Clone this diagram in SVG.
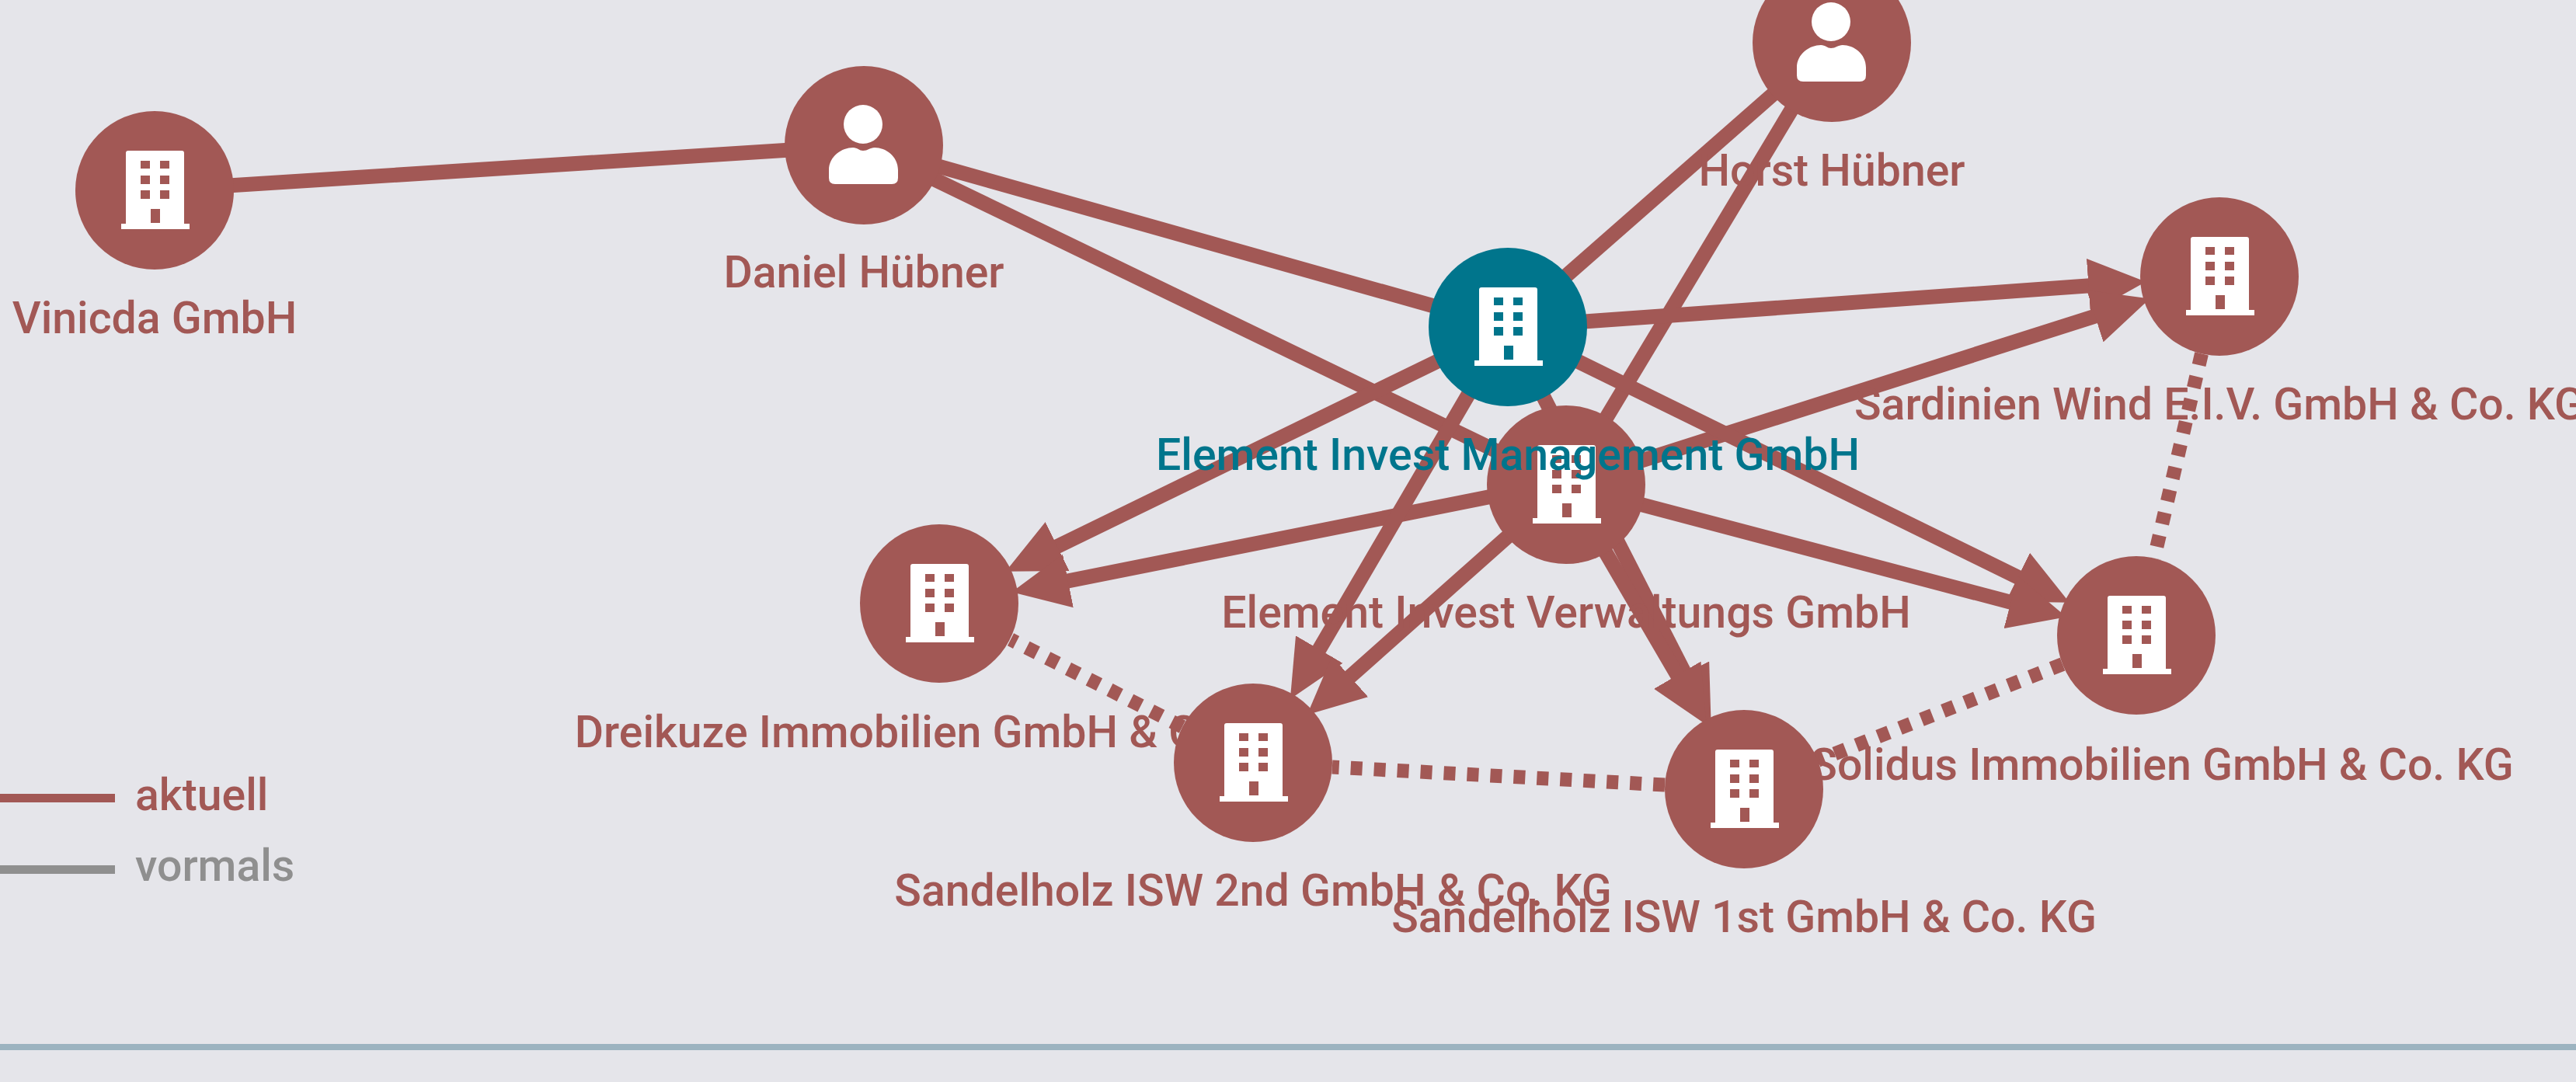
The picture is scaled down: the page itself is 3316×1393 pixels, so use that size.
<svg xmlns="http://www.w3.org/2000/svg" xmlns:xlink="http://www.w3.org/1999/xlink" width="3316" height="1393" viewBox="0 0 3316 1393">
<style>
.bg{fill:#e5e5ea}
.lbl{font-family:Roboto,"Liberation Sans",sans-serif;font-size:57.2px;font-weight:500;text-anchor:middle;fill:#a25855}
.red{fill:#a25855}
.teal{fill:#00758c}
.lbl.teal{fill:#00758c}
.gray{fill:#8f8f8f}
.ic{fill:#fff;fill-rule:evenodd}
.e{stroke:#a25855;stroke-width:19;fill:none}
.d{stroke-width:18;stroke-dasharray:15 15}
.a{marker-end:url(#arrow)}
</style>
<defs>
<marker id="arrow" markerUnits="userSpaceOnUse" viewBox="0 0 74 70" markerWidth="74" markerHeight="70" refX="44" refY="35" orient="auto"><path d="M0,0L74,35L0,70Z" fill="#a25855"/></marker>
<path id="bld" class="ic" d="M-37,-48Q-37,-51 -34,-51H35Q38,-51 38,-48V43H45V50H-43V43H-37ZM-18,-38V-28H-6V-38ZM7,-38V-28H19V-38ZM-18,-19V-8H-6V-19ZM7,-19V-8H19V-19ZM-18,0V11H-6V0ZM7,0V11H19V0ZM-5,24V42H7V24Z"/>
<g id="psn" class="ic"><circle cx="-1" cy="-27" r="25"/><path d="M-37,50Q-45,50 -45,42V32C-45,14 -28,3 -14,3C-8,3 -6,7 -1,7C5,7 8,3 14,3C28,3 44,14 44,32V42Q44,50 36,50Z"/></g>
</defs>
<rect class="bg" width="3316" height="1393"/>
<rect x="0" y="1344" width="3316" height="8" fill="#9cb3c0"/>
<g id="legend">
<rect class="red" x="0" y="1022" width="148" height="11"/><text class="lbl" style="text-anchor:start" x="174" y="1043">aktuell</text>
<rect class="gray" x="0" y="1114" width="148" height="11"/><text class="lbl gray" style="text-anchor:start;fill:#8f8f8f" x="174" y="1134">vormals</text>
</g>
<g id="connectors">
<line class="e" x1="199" y1="245" x2="1112" y2="187"/>
<line class="e" x1="1112" y1="187" x2="1941" y2="421"/>
<line class="e" x1="1112" y1="187" x2="2016" y2="624"/>
<line class="e" x1="2358" y1="55" x2="1941" y2="421"/>
<line class="e" x1="2358" y1="55" x2="2016" y2="624"/>
<line class="e a" x1="1941" y1="421" x2="2732.3" y2="364.8"/>
<line class="e a" x1="2016" y1="624" x2="2738.8" y2="393.7"/>
<line class="e a" x1="1941" y1="421" x2="2637" y2="762.5"/>
<line class="e a" x1="2016" y1="624" x2="2631" y2="786.6"/>
<line class="e a" x1="1941" y1="421" x2="1321.5" y2="722.7"/>
<line class="e a" x1="2016" y1="620" x2="1331.8" y2="756.5"/>
<line class="e a" x1="1941" y1="421" x2="1676" y2="874"/>
<line class="e a" x1="2016" y1="624" x2="1705" y2="900.3"/>
<line class="e a" x1="1941" y1="421" x2="2189" y2="906.5"/>
<line class="e a" x1="2016" y1="624" x2="2181.4" y2="907.2"/>
<line class="e d" x1="2834" y1="455.4" x2="2773" y2="718.6"/>
<line class="e d" x1="2655" y1="855.2" x2="2340" y2="978.8"/>
<line class="e d" x1="2143.1" y1="1010.5" x2="1714.9" y2="987.5"/>
<line class="e d" x1="1522" y1="935.7" x2="1301" y2="823.3"/>
</g>
<g id="n-vinicda"><circle class="red" cx="199" cy="245" r="102"/><use xlink:href="#bld" href="#bld" x="199" y="245"/><text class="lbl" x="199" y="429">Vinicda GmbH</text></g>
<g id="n-daniel"><circle class="red" cx="1112" cy="187" r="102"/><use xlink:href="#psn" href="#psn" x="1112" y="187"/><text class="lbl" x="1112" y="370">Daniel Hübner</text></g>
<g id="n-horst"><circle class="red" cx="2358" cy="55" r="102"/><use xlink:href="#psn" href="#psn" x="2358" y="55"/><text class="lbl" x="2358" y="239">Horst Hübner</text></g>
<g id="n-sardinien"><circle class="red" cx="2857" cy="356" r="102"/><use xlink:href="#bld" href="#bld" x="2857" y="356"/><text class="lbl" x="2857" y="540">Sardinien Wind E.I.V. GmbH &amp; Co. KG</text></g>
<g id="n-solidus"><circle class="red" cx="2750" cy="818" r="102"/><use xlink:href="#bld" href="#bld" x="2750" y="818"/><text class="lbl" x="2783" y="1004">Solidus Immobilien GmbH &amp; Co. KG</text></g>
<g id="n-dreikuze"><circle class="red" cx="1209" cy="777" r="102"/><use xlink:href="#bld" href="#bld" x="1209" y="777"/><text class="lbl" x="1209" y="962">Dreikuze Immobilien GmbH &amp; Co. KG</text></g>
<g id="n-verwaltung"><circle class="red" cx="2016" cy="624" r="102"/><use xlink:href="#bld" href="#bld" x="2016" y="624"/><text class="lbl" x="2016" y="808">Element Invest Verwaltungs GmbH</text></g>
<g id="n-management"><circle class="teal" cx="1941" cy="421" r="102"/><use xlink:href="#bld" href="#bld" x="1941" y="421"/><text class="lbl teal" x="1941" y="605">Element Invest Management GmbH</text></g>
<g id="n-sandelholz2"><circle class="red" cx="1613" cy="982" r="102"/><use xlink:href="#bld" href="#bld" x="1613" y="982"/><text class="lbl" x="1613" y="1166">Sandelholz ISW 2nd GmbH &amp; Co. KG</text></g>
<g id="n-sandelholz1"><circle class="red" cx="2245" cy="1016" r="102"/><use xlink:href="#bld" href="#bld" x="2245" y="1016"/><text class="lbl" x="2245" y="1200">Sandelholz ISW 1st GmbH &amp; Co. KG</text></g>
</svg>
